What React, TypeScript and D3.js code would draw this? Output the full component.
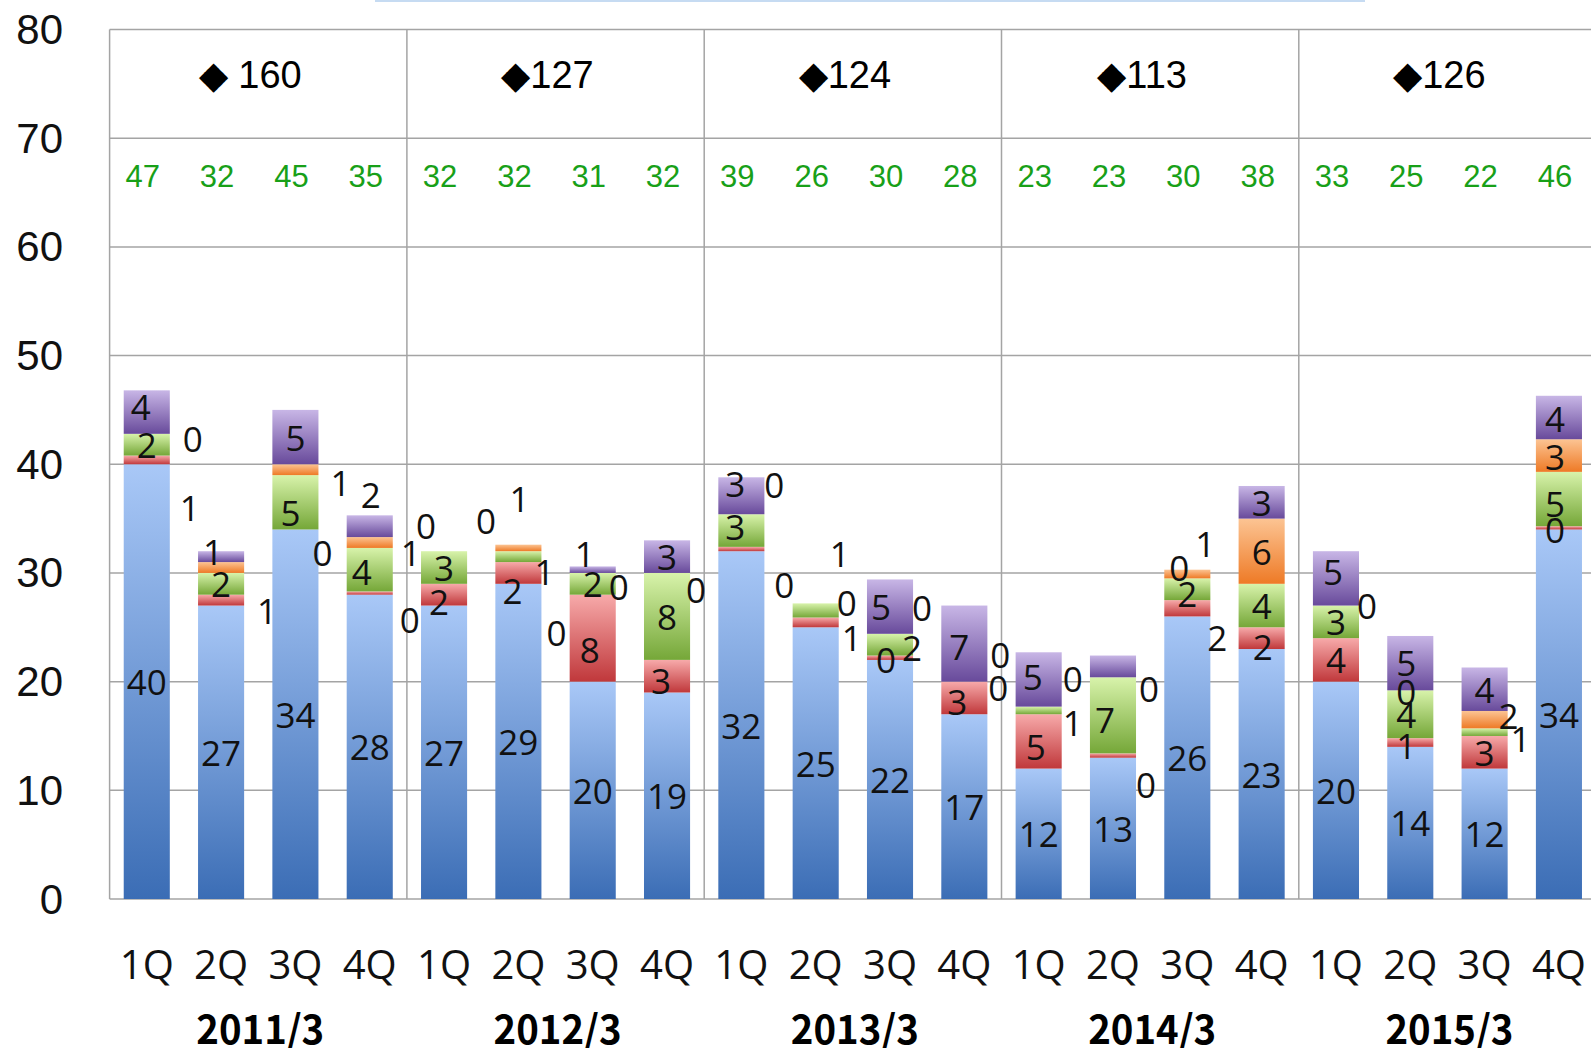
import * as d3 from 'd3';

const years = ['2011/3', '2012/3', '2013/3', '2014/3', '2015/3'];
const yearTotals = ['◆ 160', '◆127', '◆124', '◆113', '◆126'];
const quarterNames = ['1Q', '2Q', '3Q', '4Q'];
const quarterTotals = [47, 32, 45, 35, 32, 32, 31, 32, 39, 26, 30, 28, 23, 23, 30, 38, 33, 25, 22, 46];

// stacked series, bottom to top
const blueVals = [40, 27, 34, 28, 27, 29, 20, 19, 32, 25, 22, 17, 12, 13, 26, 23, 20, 14, 12, 34];
const redVals = [0.8, 1, 0, 0.3, 2, 2, 8, 3, 0.4, 0.9, 0.4, 3, 5, 0.4, 1.5, 2, 4, 0.8, 3, 0.3];
const greenVals = [2, 2, 5, 4, 3, 1, 2, 8, 3, 1.3, 2, 0, 0.7, 7, 2, 4, 3, 4.4, 0.7, 5];
const orangeVals = [0, 1, 1, 1, 0, 0.6, 0, 0, 0, 0, 0, 0, 0, 0, 0.8, 6, 0, 0, 1.6, 3];
const purpleVals = [4, 1, 5, 2, 0, 0, 0.6, 3, 3.4, 0, 5, 7, 5, 2, 0, 3, 5, 5, 4, 4];

const seriesKeys = ['blue', 'red', 'green', 'orange', 'purple'];
const seriesColors: Record<string, [string, string]> = {
  blue: ['#a9c8f7', '#3b6db5'],
  red: ['#f7aaaa', '#c0383b'],
  green: ['#d8f3ab', '#75a738'],
  orange: ['#fcc493', '#ee7a26'],
  purple: ['#c8b6e6', '#684a9b'],
};

// moved data labels: [quarter, series, dx, dy]
const labelNudges: [number, number, number, number][] = [
  [0, 1, 43, 48], [0, 3, 46, 5], [0, 4, -6, -6],
  [1, 1, 46, 10], [1, 4, -8, -5],
  [2, 1, 27, 23], [2, 2, -5, 10], [2, 3, 45, 13],
  [3, 1, 40, 26], [3, 2, -8, 2], [3, 3, 41, 10], [3, 4, 1, -32],
  [4, 1, -5, 7], [4, 3, -18, -26], [4, 4, 42, -31],
  [5, 1, -6, 18], [5, 2, 26, 15], [5, 3, 1, -49], [5, 4, 38, 88],
  [6, 1, -3, 11], [6, 3, 26, 14], [6, 4, -8, -16],
  [7, 1, -6, 4], [7, 3, 29, 17],
  [8, 1, 43, 35], [8, 2, -6, -4], [8, 3, 33, -30], [8, 4, -6, -12],
  [9, 1, 36, 15], [9, 2, 24, -57], [9, 3, 31, -1],
  [10, 1, -4, 2], [10, 2, 22, 3], [10, 3, 32, -26], [10, 4, -9, 0],
  [11, 1, -7, 4], [11, 2, 34, 6], [11, 3, 36, -27], [11, 4, -5, 3],
  [12, 1, -3, 5], [12, 2, 34, 12], [12, 3, 34, -28], [12, 4, -6, -3],
  [13, 1, 33, 29], [13, 2, -8, 4], [13, 3, 36, 11],
  [14, 1, 30, 29], [14, 2, 0, 4], [14, 3, 18, -31], [14, 4, -8, -2],
  [15, 1, 1, 8],
  [16, 3, 31, 0], [16, 4, -3, -7],
  [17, 1, -4, 3], [17, 2, -4, 0], [17, 3, -4, 1], [17, 4, -4, -1],
  [18, 2, 36, 6], [18, 3, 24, -4],
  [19, 1, -4, 2], [19, 2, -4, 4], [19, 3, -4, 1], [19, 4, -4, 1],
];
const hiddenLabels: [number, number][] = [[1, 3], [13, 4]];

const W = 1591;
const H = 1048;

export default function App() {
  const rows = blueVals.map((b, i) => ({
    q: i,
    blue: b,
    red: redVals[i],
    green: greenVals[i],
    orange: orangeVals[i],
    purple: purpleVals[i],
  }));
  const stacked = d3.stack<any>().keys(seriesKeys)(rows);

  const left = 109.6;
  const groupW = 297.3;
  const x = d3
    .scaleBand<number>()
    .domain(d3.range(20))
    .range([left, left + groupW * 5])
    .paddingInner(0.38)
    .paddingOuter(0.19);
  const y = d3.scaleLinear().domain([0, 80]).range([899, 29.5]);
  const cx = (i: number) => (x(i) as number) + x.bandwidth() / 2;

  const nudge = new Map(labelNudges.map(([q, s, dx, dy]) => [q + '-' + s, [dx, dy]]));
  const hidden = new Set(hiddenLabels.map(([q, s]) => q + '-' + s));

  const labels: { t: string; x: number; y: number; k: string }[] = [];
  stacked.forEach((layer, s) => {
    layer.forEach((d, q) => {
      const key = q + '-' + s;
      if (hidden.has(key)) return;
      const v = d[1] - d[0];
      const n = nudge.get(key);
      if (Math.round(v) === 0 && !n) return;
      const [dx, dy] = n || [0, 0];
      labels.push({ t: String(Math.round(v)), x: cx(q) + dx, y: y((d[0] + d[1]) / 2) + dy, k: key });
    });
  });

  const grid = '#a4a4a4';

  return (
    <svg width={W} height={H} style={{ position: 'absolute', left: 0, top: 0, background: '#fff' }}>
      <defs>
        {seriesKeys.map((k) => (
          <linearGradient key={k} id={'g-' + k} x1="0" y1="0" x2="0" y2="1">
            <stop offset="0%" stopColor={seriesColors[k][0]} />
            <stop offset="100%" stopColor={seriesColors[k][1]} />
          </linearGradient>
        ))}
      </defs>
      <rect x={375} y={0} width={990} height={2} fill="#c6dbf2" />

      {/* grid */}
      {d3.range(0, 81, 10).map((t) => (
        <line key={t} x1={left} x2={W} y1={y(t)} y2={y(t)} stroke={grid} strokeWidth={1.5} />
      ))}
      {d3.range(5).map((k) => (
        <line key={k} x1={left + k * groupW} x2={left + k * groupW} y1={y(80)} y2={y(0)} stroke={grid} strokeWidth={1.5} />
      ))}

      {/* y axis */}
      {d3.range(0, 81, 10).map((t) => (
        <text key={t} x={63} y={y(t)} textAnchor="end" dominantBaseline="central"
          fontFamily="Liberation Sans, Arial" fontSize={42} fill="#111">{t}</text>
      ))}

      {/* bars */}
      {stacked.map((layer) => (
        <g key={layer.key} fill={`url(#g-${layer.key})`}>
          {layer.map((d, q) => (
            d[1] - d[0] > 0 ? (
              <rect key={q} x={x(q)} width={x.bandwidth()} y={y(d[1])} height={y(d[0]) - y(d[1])} />
            ) : null
          ))}
        </g>
      ))}

      {/* data labels */}
      {labels.map((l) => (
        <text key={l.k} x={l.x} y={l.y} textAnchor="middle" dominantBaseline="central"
          fontFamily="Open Sans" fontSize={35} fill="#111">{l.t}</text>
      ))}

      {/* yearly totals */}
      {yearTotals.map((t, k) => (
        <text key={k} x={left + k * groupW + groupW / 2 - 8} y={75} textAnchor="middle" dominantBaseline="central"
          fontFamily="Liberation Sans, Arial" fontSize={38} fill="#000">{t}</text>
      ))}
      {quarterTotals.map((t, i) => (
        <text key={i} x={cx(i) - 4} y={176} textAnchor="middle" dominantBaseline="central"
          fontFamily="Liberation Sans, Arial" fontSize={31} fill="#18a018">{t}</text>
      ))}

      {/* x axis */}
      {d3.range(20).map((i) => (
        <text key={i} x={cx(i)} y={963} textAnchor="middle" dominantBaseline="central"
          fontFamily="Open Sans" fontSize={40} fill="#111">{quarterNames[i % 4]}</text>
      ))}
      {years.map((t, k) => (
        <text key={k} x={left + k * groupW + groupW / 2 + 2} y={1044}
          fontFamily="Noto Sans CJK JP" fontWeight="bold" fontSize={40} textAnchor="middle"
          textLength={128} lengthAdjust="spacingAndGlyphs" fill="#000">{t}</text>
      ))}
    </svg>
  );
}
